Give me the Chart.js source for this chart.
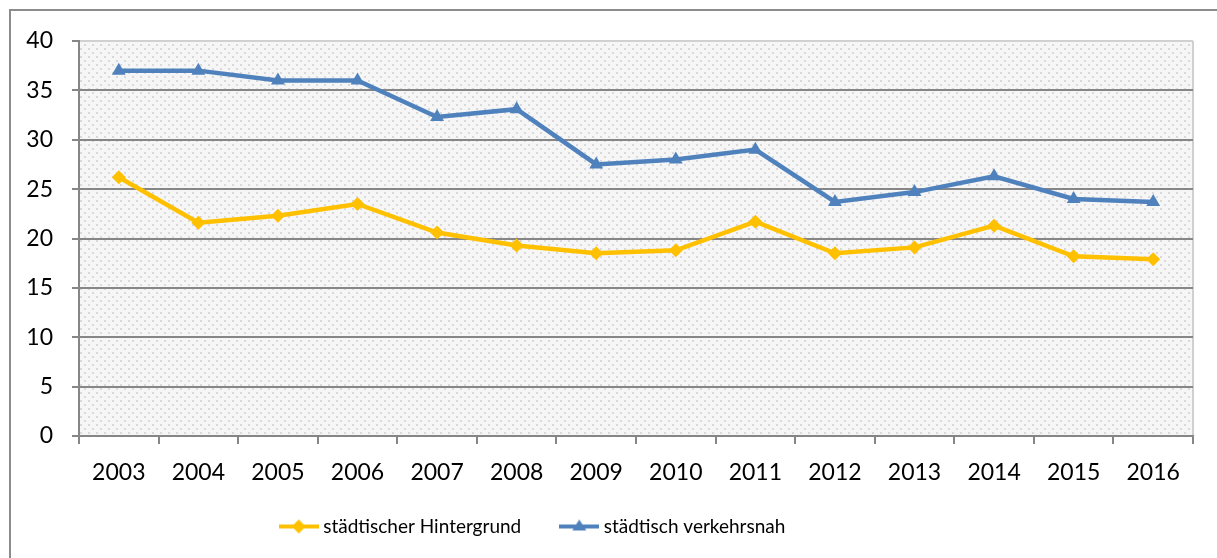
<!DOCTYPE html>
<html>
<head>
<meta charset="utf-8">
<script src="https://cdn.jsdelivr.net/npm/chart.js@4"></script>
<style>
    html, body { margin: 0; padding: 0; background: #fff; }
    #wrap { width: 1217px; height: 558px; position: relative; }
</style>
</head>
<body>
<div id="wrap"><canvas id="chart"></canvas></div>
<script>
// Data
const years = ['2003', '2004', '2005', '2006', '2007', '2008', '2009', '2010', '2011', '2012', '2013', '2014', '2015', '2016'];
const hintergrund = [26.2, 21.6, 22.3, 23.5, 20.6, 19.3, 18.5, 18.8, 21.7, 18.5, 19.1, 21.3, 18.2, 17.9];
const verkehrsnah = [37.0, 37.0, 36.0, 36.0, 32.3, 33.1, 27.5, 28.0, 29.0, 23.7, 24.7, 26.3, 24.0, 23.7];
const yMin = 0;
const yMax = 40;
const yStep = 5;

const YELLOW = '#ffc000';
const BLUE = '#4f81bd';
const GRID = '#868686';
const FONT = 'Lato, "Open Sans", sans-serif';

// Dotted background tile for the plot area
function makePattern(ctx) {
    const tile = document.createElement('canvas');
    tile.width = 8;
    tile.height = 8;
    const t = tile.getContext('2d');
    t.fillStyle = '#f6f6f6';
    t.fillRect(0, 0, 8, 8);
    t.fillStyle = '#d9d9d9';
    t.fillRect(0, 0, 2, 2);
    t.fillRect(4, 4, 2, 2);
    return ctx.createPattern(tile, 'repeat');
}

// Legend swatch: short line with the marker in the middle
function makeSwatch(color, shape) {
    const c = document.createElement('canvas');
    c.width = 40;
    c.height = 16;
    const g = c.getContext('2d');
    g.strokeStyle = color;
    g.lineWidth = 4;
    g.beginPath();
    g.moveTo(0, 8);
    g.lineTo(40, 8);
    g.stroke();
    g.fillStyle = color;
    g.beginPath();
    if (shape === 'diamond') {
        g.moveTo(20, 1); g.lineTo(27, 8); g.lineTo(20, 15); g.lineTo(13, 8);
    } else {
        g.moveTo(20, 1); g.lineTo(27, 12); g.lineTo(13, 12);
    }
    g.closePath();
    g.fill();
    return c;
}

const backgroundPlugin = {
    id: 'plotBackground',
    afterLayout(chart) {
        // nudge the legend to where it sits in the reference
        const lg = chart.legend;
        if (!lg) return;
        lg.left -= 62;
        lg.right -= 62;
        lg.top -= 12;
        lg.bottom -= 12;
    },
    beforeDraw(chart) {
        const { ctx, chartArea: a } = chart;
        ctx.save();
        ctx.fillStyle = makePattern(ctx);
        ctx.fillRect(a.left, a.top, a.right - a.left, a.bottom - a.top);
        // light right edge of plot area
        ctx.strokeStyle = '#d0d0d0';
        ctx.lineWidth = 2;
        ctx.beginPath();
        ctx.moveTo(a.right, a.top);
        ctx.lineTo(a.right, a.bottom);
        ctx.stroke();
        // outer frame (left and top only visible)
        ctx.strokeStyle = '#8c8c8c';
        ctx.lineWidth = 2;
        ctx.beginPath();
        ctx.moveTo(10, chart.height);
        ctx.lineTo(10, 10);
        ctx.lineTo(chart.width, 10);
        ctx.stroke();
        ctx.restore();
    }
};

const ctx = document.getElementById('chart').getContext('2d');
const swatches = [makeSwatch(YELLOW, 'diamond'), makeSwatch(BLUE, 'triangle')];

new Chart(ctx, {
    type: 'line',
    data: {
        labels: years,
        datasets: [{
            label: 'städtischer Hintergrund',
            data: hintergrund,
            borderColor: YELLOW,
            backgroundColor: YELLOW,
            borderWidth: 4.5,
            pointStyle: 'rectRot',
            pointRadius: 7,
            pointBorderWidth: 0,
            tension: 0
        }, {
            label: 'städtisch verkehrsnah',
            data: verkehrsnah,
            borderColor: BLUE,
            backgroundColor: BLUE,
            borderWidth: 4.5,
            pointStyle: 'triangle',
            pointRadius: 8,
            pointBorderWidth: 0,
            tension: 0
        }]
    },
    options: {
        responsive: true,
        maintainAspectRatio: false,
        animation: false,
        layout: {
            padding: { left: 0, top: 41, right: 24, bottom: 0 }
        },
        plugins: {
            tooltip: { enabled: false },
            legend: {
                display: true,
                position: 'bottom',
                labels: {
                    color: '#000',
                    font: { family: FONT, size: 19 },
                    usePointStyle: true,
                    pointStyleWidth: 30,
                    padding: 43,
                    generateLabels(chart) {
                        return chart.data.datasets.map((ds, i) => ({
                            text: ds.label,
                            pointStyle: swatches[i],
                            fillStyle: ds.borderColor,
                            strokeStyle: ds.borderColor,
                            lineWidth: 0,
                            fontColor: '#000',
                            hidden: false,
                            datasetIndex: i
                        }));
                    }
                }
            }
        },
        scales: {
            x: {
                offset: true,
                afterFit(scale) { scale.height = 50; },
                grid: {
                    offset: true,
                    drawOnChartArea: false,
                    drawTicks: true,
                    tickLength: 8,
                    color: GRID,
                    lineWidth: 2
                },
                border: { color: GRID, width: 2 },
                ticks: {
                    color: '#000',
                    font: { family: FONT, size: 23 },
                    padding: 15,
                    maxRotation: 0
                }
            },
            y: {
                min: yMin,
                max: yMax,
                afterFit(scale) { scale.width = 79; },
                grid: {
                    color: ctx => ctx.tick && ctx.tick.value === yMax ? '#d0d0d0' : GRID,
                    lineWidth: 2,
                    tickLength: 7,
                    tickColor: GRID
                },
                border: { color: GRID, width: 2 },
                ticks: {
                    stepSize: yStep,
                    color: '#000',
                    font: { family: FONT, size: 23 },
                    padding: 19
                }
            }
        }
    },
    plugins: [backgroundPlugin]
});
</script>
</body>
</html>
